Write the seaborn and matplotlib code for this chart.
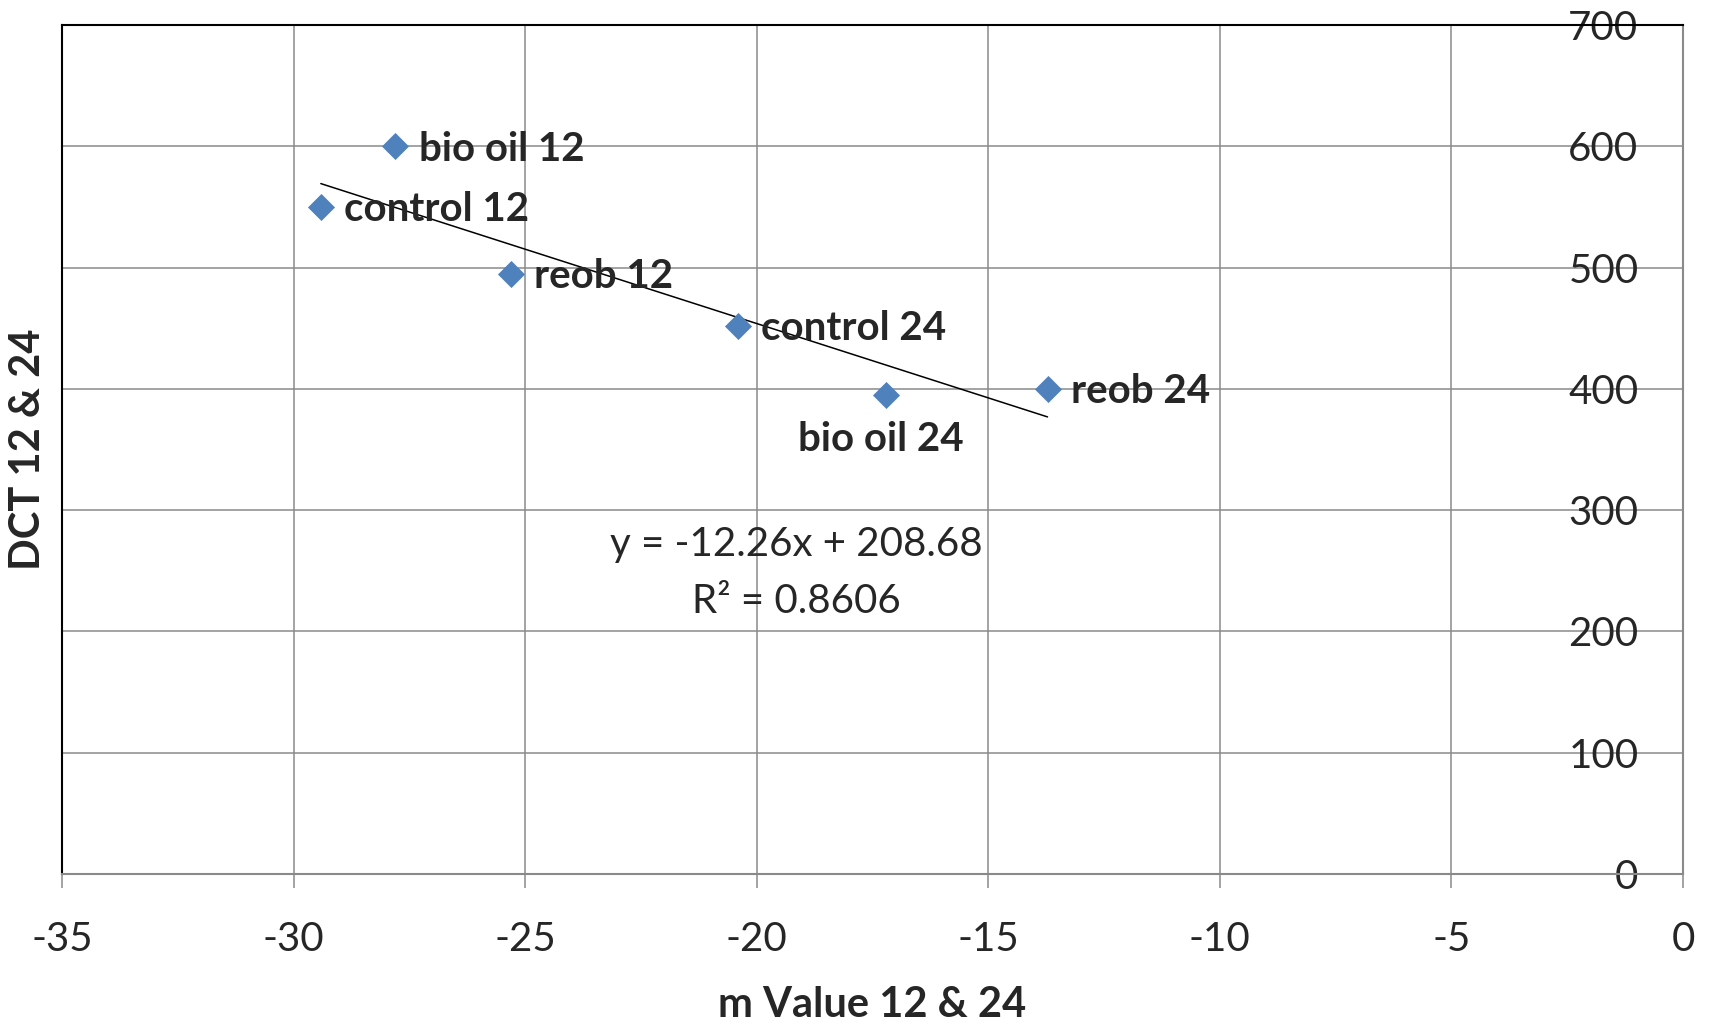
import matplotlib
matplotlib.use("Agg")
import matplotlib.pyplot as plt
import seaborn as sns
import pandas as pd
import numpy as np

# Sample labels and measured values
samples = ["bio oil 12", "control 12", "reob 12", "control 24", "bio oil 24", "reob 24"]
m_value = [-27.81, -29.41, -25.31, -20.41, -17.21, -13.72]
dct = [600, 550, 495, 452, 395, 400]

# Linear trendline coefficients and fit quality
slope = -12.26
intercept = 208.68
r_squared = 0.8606

x_ticks = [-35, -30, -25, -20, -15, -10, -5, 0]
y_ticks = [0, 100, 200, 300, 400, 500, 600, 700]

df = pd.DataFrame({"sample": samples, "m": m_value, "dct": dct})

sns.set_style("white")
plt.rcParams["font.family"] = ["Lato", "DejaVu Sans"]
plt.rcParams["axes.unicode_minus"] = False

GRID = "#8a8a8a"
BLUE = "#4F81BD"

fig = plt.figure(figsize=(17.11, 10.25), dpi=100)
ax = fig.add_axes([0.0362, 0.1473, 0.9474, 0.8283])

ax.set_xlim(-35, 0)
ax.set_ylim(0, 700)
ax.set_xticks(x_ticks)
ax.set_yticks(y_ticks)
ax.grid(True, color=GRID, linewidth=1.1)
ax.set_axisbelow(True)

# Trendline across the range of the data
xs = np.array([min(m_value), max(m_value)])
ax.plot(xs, slope * xs + intercept, color="black", linewidth=1.1, zorder=3)

sns.scatterplot(data=df, x="m", y="dct", marker="D", s=190, color=BLUE,
                edgecolor=BLUE, linewidth=0, ax=ax, zorder=4, legend=False)

# Data labels: to the right of each point, except bio oil 24 which sits below
for name, xv, yv in zip(samples, m_value, dct):
    if name == "bio oil 24":
        ax.annotate(name, (xv, yv), xytext=(-4, -32), textcoords="offset points",
                    ha="center", va="center", fontsize=29, fontweight="bold", zorder=5)
    else:
        ax.annotate(name, (xv, yv), xytext=(17, -2), textcoords="offset points",
                    ha="left", va="center", fontsize=29, fontweight="bold", zorder=5)

eq_text = f"y = {slope:.2f}x + {intercept:.2f}\nR² = {r_squared:.4f}"
ax.text(-19.14, 248, eq_text, ha="center", va="center", fontsize=29,
        linespacing=1.68, zorder=5)

# Spines: plot-area border black on top/left, axis lines grey
ax.spines["top"].set_color("black")
ax.spines["left"].set_color("black")
ax.spines["right"].set_color(GRID)
ax.spines["bottom"].set_color(GRID)
for s in ax.spines.values():
    s.set_linewidth(1.5)

ax.tick_params(axis="x", direction="out", length=10, width=1.1, color=GRID,
               labelsize=29, pad=24, bottom=True)
ax.yaxis.tick_right()
ax.tick_params(axis="y", length=0, labelsize=29, pad=-32, right=False,
               labelright=True, labelleft=False)
for lab in ax.get_yticklabels():
    lab.set_horizontalalignment("right")

ax.set_xlabel("m Value 12 & 24", fontsize=30, fontweight="bold", labelpad=20)
ax.set_ylabel("DCT 12 & 24", fontsize=30, fontweight="bold")
ax.yaxis.set_label_position("left")
ax.yaxis.set_label_coords(-0.009, 0.5)

fig.savefig("out.png", dpi=100)
